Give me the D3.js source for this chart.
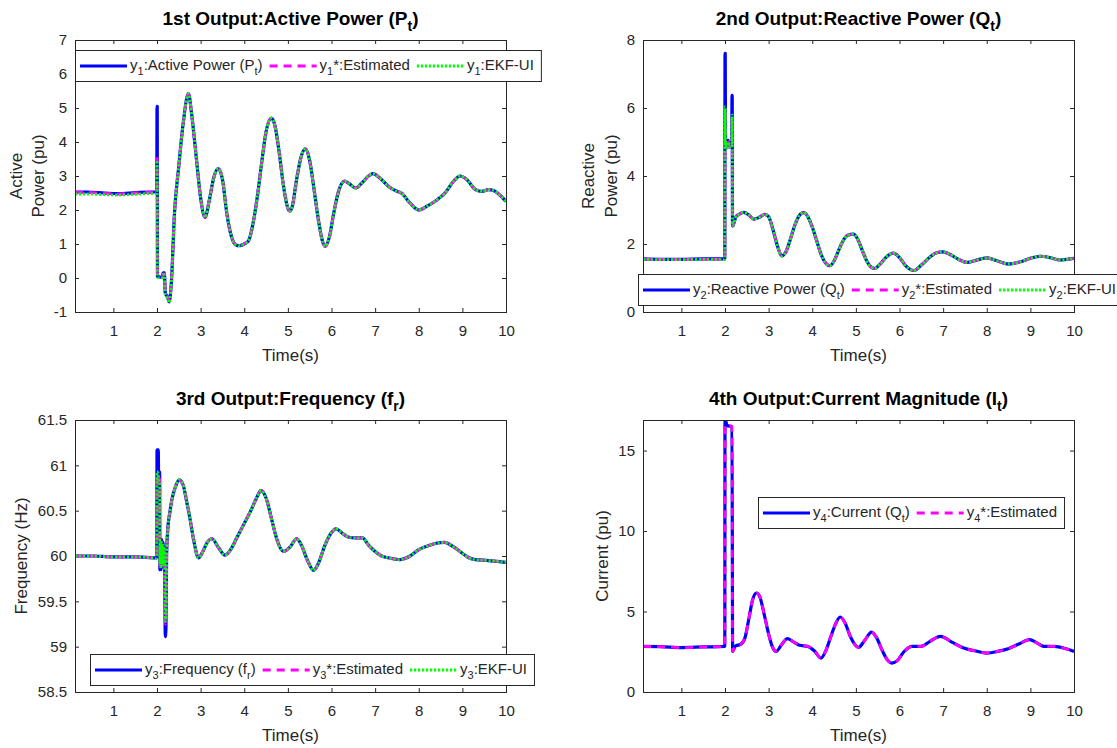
<!DOCTYPE html>
<html>
<head>
<meta charset="utf-8">
<script src="https://d3js.org/d3.v7.min.js"></script>
<style>
  body { margin: 0; background: #fff; }
  svg { display: block; font-family: "Liberation Sans", Arial, Helvetica, sans-serif; }
</style>
</head>
<body>
<svg id="fig" width="1117" height="748"></svg>
<script>
// ---- data ----
var xTicks = [1, 2, 3, 4, 5, 6, 7, 8, 9, 10];
var xDomain = [0.12, 10];

// 1st output: active power
var t1Head = [0.12, 0.4, 0.8, 1.1, 1.5, 1.8, 1.995, 2.0, 2.005, 2.01, 2.12, 2.14, 2.17, 2.19, 2.24, 2.28, 2.33];
var p1ActualHead = [2.53, 2.53, 2.50, 2.48, 2.51, 2.53, 2.53, 5.05, 5.05, 0.05, 0.02, 0.15, 0.15, -0.45, -0.55, -0.70, -0.10];
var p1EstHead = [2.52, 2.52, 2.49, 2.47, 2.50, 2.52, 2.52, 3.52, 3.50, 0.05, 0.02, 0.12, 0.12, -0.45, -0.55, -0.68, -0.10];
var p1EkfHead = [2.47, 2.47, 2.45, 2.44, 2.46, 2.48, 2.48, 3.40, 3.38, 0.02, 0.00, 0.10, 0.10, -0.50, -0.60, -0.73, -0.12];
var t1Swing = [2.4, 2.5, 2.6, 2.72, 2.8, 2.9, 3.0, 3.1, 3.2, 3.3, 3.4, 3.5, 3.6, 3.7, 3.8, 3.9,
  4.0, 4.1, 4.2, 4.3, 4.4, 4.5, 4.62, 4.7, 4.8, 4.9, 5.0, 5.05, 5.1, 5.2, 5.3, 5.4, 5.5, 5.6, 5.7, 5.8, 5.85, 5.95,
  6.05, 6.15, 6.3, 6.4, 6.55, 6.7, 6.85, 6.95, 7.1, 7.3, 7.5, 7.6, 7.8, 8.0, 8.2, 8.4, 8.6, 8.8, 8.95,
  9.1, 9.3, 9.45, 9.6, 9.7, 9.85, 10.0];
var p1Swing = [1.9, 3.3, 4.55, 5.42, 4.75, 3.55, 2.35, 1.78, 2.3, 2.95, 3.22, 2.9, 1.9, 1.25, 0.98, 0.95,
  1.0, 1.1, 1.6, 2.4, 3.4, 4.3, 4.7, 4.5, 3.7, 2.7, 2.05, 1.97, 2.1, 2.9, 3.55, 3.8, 3.45, 2.6, 1.7, 1.05, 0.93, 1.2,
  1.9, 2.5, 2.85, 2.78, 2.65, 2.8, 3.0, 3.07, 2.95, 2.7, 2.55, 2.5, 2.2, 2.0, 2.12, 2.28, 2.5, 2.85, 3.0,
  2.9, 2.6, 2.55, 2.6, 2.58, 2.45, 2.25];
var yTicks1 = [-1, 0, 1, 2, 3, 4, 5, 6, 7];

// 2nd output: reactive power
var t2Head = [0.12, 0.5, 1.0, 1.5, 1.995, 2.0, 2.005, 2.012, 2.04, 2.07, 2.1, 2.13, 2.155, 2.16, 2.165, 2.172, 2.18, 2.2];
var q2ActualHead = [1.56, 1.55, 1.55, 1.56, 1.56, 7.61, 7.61, 5.0, 4.85, 5.05, 4.85, 5.0, 5.0, 6.37, 6.37, 2.53, 2.53, 2.6];
var q2EstHead = [1.55, 1.55, 1.54, 1.55, 1.55, 6.0, 6.0, 4.95, 4.85, 5.05, 4.85, 4.95, 4.95, 5.7, 5.7, 2.55, 2.55, 2.6];
var q2EkfHead = [1.55, 1.54, 1.54, 1.55, 1.55, 6.03, 6.0, 4.95, 4.8, 5.0, 4.85, 4.95, 4.95, 5.79, 5.79, 2.55, 2.55, 2.6];
var t2Swing = [2.25, 2.33, 2.43, 2.55, 2.66, 2.78, 2.91, 3.0, 3.1, 3.2, 3.3, 3.4, 3.5, 3.6, 3.7, 3.8, 3.9,
  4.0, 4.1, 4.2, 4.3, 4.4, 4.5, 4.6, 4.7, 4.8, 4.95, 5.05, 5.15, 5.25, 5.35, 5.43, 5.55, 5.7, 5.86,
  6.0, 6.15, 6.33, 6.5, 6.7, 6.85, 7.0, 7.15, 7.35, 7.55, 7.75, 8.0, 8.25, 8.5, 8.75, 9.0, 9.23, 9.45, 9.68, 9.85, 10.0];
var q2Swing = [2.8, 2.88, 2.93, 2.85, 2.73, 2.78, 2.87, 2.8, 2.42, 1.95, 1.65, 1.78, 2.15, 2.55, 2.83, 2.92, 2.8,
  2.5, 2.1, 1.7, 1.45, 1.36, 1.5, 1.8, 2.08, 2.25, 2.29, 2.12, 1.8, 1.5, 1.32, 1.28, 1.4, 1.62, 1.73,
  1.6, 1.35, 1.22, 1.38, 1.62, 1.74, 1.77, 1.7, 1.55, 1.46, 1.52, 1.59, 1.5, 1.41, 1.47, 1.58, 1.64, 1.6, 1.53, 1.55, 1.58];
var yTicks2 = [0, 2, 4, 6, 8];

// 3rd output: frequency
var t3Head = [0.12, 0.5, 1.0, 1.5, 1.995, 2.0, 2.005, 2.03, 2.035, 2.06, 2.065, 2.08, 2.095, 2.11, 2.125, 2.14, 2.155, 2.17, 2.19, 2.205, 2.22, 2.24];
var f3ActualHead = [60.0, 60.0, 59.99, 59.99, 59.98, 61.17, 61.17, 61.17, 60.93, 60.93, 59.85, 60.18, 59.85, 60.18, 59.88, 60.15, 59.9, 60.1, 59.11, 59.2, 60.0, 60.25];
var f3EstHead = [60.0, 60.0, 59.99, 59.99, 59.98, 60.9, 60.9, 60.88, 60.85, 60.85, 59.88, 60.15, 59.88, 60.15, 59.9, 60.12, 59.92, 60.08, 59.25, 59.3, 60.0, 60.25];
var f3EkfHead = [60.0, 60.0, 59.99, 59.99, 59.98, 60.93, 60.93, 60.9, 60.85, 60.8, 59.9, 60.15, 59.88, 60.15, 59.9, 60.12, 59.92, 60.08, 59.28, 59.32, 60.0, 60.25];
var t3Swing = [2.3, 2.34, 2.42, 2.51, 2.6, 2.68, 2.76, 2.85, 2.95, 3.05, 3.15, 3.26, 3.4, 3.56, 3.7, 3.85,
  4.0, 4.15, 4.3, 4.38, 4.5, 4.63, 4.75, 4.9, 5.05, 5.2, 5.3, 5.45, 5.59, 5.7, 5.85,
  6.0, 6.1, 6.25, 6.38, 6.55, 6.71, 6.85, 7.0, 7.15, 7.3, 7.57, 7.8, 8.0, 8.2, 8.4, 8.59, 8.8,
  9.0, 9.15, 9.3, 9.6, 9.8, 10.0];
var f3Swing = [60.5, 60.62, 60.76, 60.84, 60.78, 60.6, 60.4, 60.15, 59.98, 60.05, 60.15, 60.19, 60.1, 60.01, 60.08, 60.22,
  60.36, 60.5, 60.66, 60.72, 60.64, 60.4, 60.18, 60.05, 60.1, 60.19, 60.13, 59.95, 59.84, 59.92, 60.12,
  60.26, 60.3, 60.25, 60.21, 60.2, 60.2, 60.12, 60.05, 60.0, 59.98, 59.96, 60.0, 60.07, 60.11, 60.14, 60.15, 60.1,
  60.03, 59.98, 59.96, 59.95, 59.94, 59.93];
var yTicks3 = [58.5, 59, 59.5, 60, 60.5, 61, 61.5];

// 4th output: current magnitude
var t4Head = [0.12, 0.5, 1.0, 1.5, 1.995, 2.0, 2.05, 2.16, 2.175, 2.19, 2.25, 2.35];
var i4ActualHead = [2.83, 2.82, 2.76, 2.8, 2.83, 16.95, 16.55, 16.5, 2.52, 2.6, 2.88, 2.95];
var i4EstHead = [2.83, 2.82, 2.76, 2.8, 2.83, 16.6, 16.55, 16.5, 2.52, 2.6, 2.88, 2.95];
var t4Swing = [2.45, 2.55, 2.63, 2.72, 2.8, 2.9, 3.0, 3.08, 3.17, 3.3, 3.43, 3.55, 3.71, 3.9,
  4.05, 4.2, 4.3, 4.42, 4.53, 4.64, 4.75, 4.88, 5.06, 5.2, 5.36, 5.48, 5.6, 5.72, 5.82, 5.95,
  6.1, 6.29, 6.49, 6.7, 6.94, 7.2, 7.47, 7.75, 8.0, 8.25, 8.49, 8.75, 8.98, 9.15, 9.31, 9.55, 9.8, 10.0];
var i4Swing = [3.3, 4.6, 5.7, 6.15, 5.9, 4.8, 3.6, 2.85, 2.52, 2.95, 3.32, 3.15, 2.9, 2.83,
  2.55, 2.11, 2.5, 3.4, 4.2, 4.66, 4.3, 3.4, 2.77, 3.2, 3.72, 3.35, 2.6, 2.0, 1.8, 1.95,
  2.5, 2.83, 2.83, 3.15, 3.46, 3.1, 2.73, 2.55, 2.42, 2.52, 2.69, 3.0, 3.25, 3.05, 2.83, 2.83, 2.7, 2.52];
var yTicks4 = [0, 5, 10, 15];

// ---- styles ----
var ink = '#262626';
var styles = {
  actual: { color: '#0000ff', width: 3.2, dash: null },
  est: { color: '#ff00ff', width: 2.8, dash: '8,6' },
  ekf: { color: '#00ff00', width: 2.8, dash: '2.2,1.8' }
};

// text with simple subscripts: parts = [[text], [text, 'sub'], ...]
function addRich(textSel, parts, size) {
  var down = false;
  parts.forEach(function(p) {
    var ts = textSel.append('tspan').text(p[0]);
    if (p[1] === 'sub') {
      ts.attr('font-size', Math.round(size * 0.72));
      if (!down) ts.attr('dy', size * 0.32);
      down = true;
    } else if (down) {
      ts.attr('dy', -size * 0.32);
      down = false;
    }
  });
}

function seriesOf(t, v, style, label) {
  return { pts: d3.zip(t, v), style: style, label: label };
}

var panels = [
  {
    box: [75, 40, 431, 272], yDomain: [-1, 7], yTicks: yTicks1,
    title: [['1st Output:Active Power (P'], ['t', 'sub'], [')']],
    ylabel: ['Active', 'Power (pu)'], ylabelX: [22, 44],
    legend: [75, 50],
    series: [
      seriesOf(t1Head.concat(t1Swing), p1ActualHead.concat(p1Swing), 'actual', [['y'], ['1', 'sub'], [':Active Power (P'], ['t', 'sub'], [')']]),
      seriesOf(t1Head.concat(t1Swing), p1EstHead.concat(p1Swing), 'est', [['y'], ['1', 'sub'], ['*:Estimated']]),
      seriesOf(t1Head.concat(t1Swing), p1EkfHead.concat(p1Swing), 'ekf', [['y'], ['1', 'sub'], [':EKF-UI']])
    ]
  },
  {
    box: [643, 40, 431, 272], yDomain: [0, 8], yTicks: yTicks2,
    title: [['2nd Output:Reactive Power (Q'], ['t', 'sub'], [')']],
    ylabel: ['Reactive', 'Power (pu)'], ylabelX: [594, 617],
    legend: [638, 274],
    series: [
      seriesOf(t2Head.concat(t2Swing), q2ActualHead.concat(q2Swing), 'actual', [['y'], ['2', 'sub'], [':Reactive Power (Q'], ['t', 'sub'], [')']]),
      seriesOf(t2Head.concat(t2Swing), q2EstHead.concat(q2Swing), 'est', [['y'], ['2', 'sub'], ['*:Estimated']]),
      seriesOf(t2Head.concat(t2Swing), q2EkfHead.concat(q2Swing), 'ekf', [['y'], ['2', 'sub'], [':EKF-UI']])
    ]
  },
  {
    box: [75, 420, 431, 272], yDomain: [58.5, 61.5], yTicks: yTicks3,
    title: [['3rd Output:Frequency (f'], ['r', 'sub'], [')']],
    ylabel: ['Frequency (Hz)'], ylabelX: [27],
    legend: [90, 654],
    series: [
      seriesOf(t3Head.concat(t3Swing), f3ActualHead.concat(f3Swing), 'actual', [['y'], ['3', 'sub'], [':Frequency (f'], ['r', 'sub'], [')']]),
      seriesOf(t3Head.concat(t3Swing), f3EstHead.concat(f3Swing), 'est', [['y'], ['3', 'sub'], ['*:Estimated']]),
      seriesOf(t3Head.concat(t3Swing), f3EkfHead.concat(f3Swing), 'ekf', [['y'], ['3', 'sub'], [':EKF-UI']])
    ]
  },
  {
    box: [643, 420, 431, 272], yDomain: [0, 16.9], yTicks: yTicks4,
    title: [['4th Output:Current Magnitude (I'], ['t', 'sub'], [')']],
    ylabel: ['Current (pu)'], ylabelX: [608],
    legend: [758, 497],
    series: [
      seriesOf(t4Head.concat(t4Swing), i4ActualHead.concat(i4Swing), 'actual', [['y'], ['4', 'sub'], [':Current (Q'], ['t', 'sub'], [')']]),
      seriesOf(t4Head.concat(t4Swing), i4EstHead.concat(i4Swing), 'est', [['y'], ['4', 'sub'], ['*:Estimated']])
    ]
  }
];

var svg = d3.select('#fig');
svg.append('rect').attr('width', 1117).attr('height', 748).attr('fill', '#fff');

var tickLen = 4;

panels.forEach(function(p, i) {
  var bx = p.box[0], by = p.box[1], bw = p.box[2], bh = p.box[3];
  var x = d3.scaleLinear().domain(xDomain).range([bx, bx + bw]);
  var y = d3.scaleLinear().domain(p.yDomain).range([by + bh, by]);
  var g = svg.append('g');

  g.append('clipPath').attr('id', 'clip' + i)
    .append('rect').attr('x', bx).attr('y', by).attr('width', bw).attr('height', bh);

  // axes with inward ticks on all four sides
  function styleAxis(a) {
    a.select('.domain').remove();
    a.selectAll('line').attr('stroke', ink);
    a.selectAll('text').attr('fill', ink).attr('font-size', 15)
      .attr('font-family', '"Liberation Sans", Arial, Helvetica, sans-serif');
  }
  g.append('g').attr('transform', 'translate(0,' + (by + bh) + ')')
    .call(d3.axisBottom(x).tickValues(xTicks).tickSizeInner(-tickLen).tickSizeOuter(0).tickPadding(13).tickFormat(String))
    .call(styleAxis);
  g.append('g').attr('transform', 'translate(0,' + by + ')')
    .call(d3.axisTop(x).tickValues(xTicks).tickSizeInner(-tickLen).tickSizeOuter(0).tickFormat(''))
    .call(styleAxis);
  g.append('g').attr('transform', 'translate(' + bx + ',0)')
    .call(d3.axisLeft(y).tickValues(p.yTicks).tickSizeInner(-tickLen).tickSizeOuter(0).tickPadding(8).tickFormat(String))
    .call(styleAxis);
  g.append('g').attr('transform', 'translate(' + (bx + bw) + ',0)')
    .call(d3.axisRight(y).tickValues(p.yTicks).tickSizeInner(-tickLen).tickSizeOuter(0).tickFormat(''))
    .call(styleAxis);

  // curves
  var line = d3.line()
    .x(function(d) { return x(d[0]); })
    .y(function(d) { return y(d[1]); })
    .curve(d3.curveMonotoneX);

  var plot = g.append('g').attr('clip-path', 'url(#clip' + i + ')');
  p.series.forEach(function(s) {
    var st = styles[s.style];
    plot.append('path')
      .attr('d', line(s.pts))
      .attr('fill', 'none')
      .attr('stroke', st.color)
      .attr('stroke-width', st.width)
      .attr('stroke-dasharray', st.dash)
      .attr('stroke-linejoin', 'round');
  });

  // box
  g.append('rect').attr('x', bx + 0.5).attr('y', by + 0.5).attr('width', bw).attr('height', bh)
    .attr('fill', 'none').attr('stroke', ink).attr('stroke-width', 1);

  // title
  var title = g.append('text')
    .attr('x', bx + bw / 2).attr('y', by - 15)
    .attr('text-anchor', 'middle').attr('font-size', 19).attr('font-weight', 'bold').attr('fill', '#000');
  addRich(title, p.title, 19);

  // x label
  g.append('text').attr('x', bx + bw / 2).attr('y', by + bh + 49)
    .attr('text-anchor', 'middle').attr('font-size', 17).attr('fill', ink).text('Time(s)');

  // y label (one or two lines)
  p.ylabel.forEach(function(txt, k) {
    var lx = p.ylabelX[k], ly = by + bh / 2;
    g.append('text').attr('transform', 'translate(' + lx + ',' + ly + ') rotate(-90)')
      .attr('text-anchor', 'middle').attr('font-size', 17).attr('fill', ink).text(txt);
  });

  // legend
  var lx0 = p.legend[0], ly0 = p.legend[1], lh = 31;
  var lg = g.append('g');
  var lbox = lg.append('rect').attr('x', lx0 + 0.5).attr('y', ly0 + 0.5).attr('height', lh)
    .attr('fill', '#fff').attr('stroke', ink).attr('stroke-width', 1);
  var cx = lx0 + 5;
  p.series.forEach(function(s) {
    var st = styles[s.style];
    lg.append('line')
      .attr('x1', cx).attr('x2', cx + 47).attr('y1', ly0 + lh / 2 + 0.5).attr('y2', ly0 + lh / 2 + 0.5)
      .attr('stroke', st.color).attr('stroke-width', st.width).attr('stroke-dasharray', st.dash);
    cx += 50;
    var tx = lg.append('text').attr('x', cx).attr('y', ly0 + 20).attr('font-size', 15).attr('fill', ink);
    addRich(tx, s.label, 15);
    cx += tx.node().getComputedTextLength() + 7;
  });
  lbox.attr('width', cx - lx0);
});
</script>
</body>
</html>
